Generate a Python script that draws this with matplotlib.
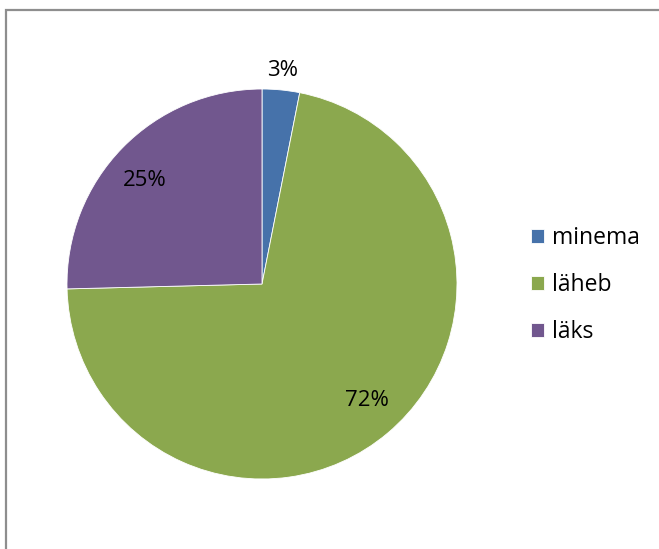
import numpy as np
import matplotlib
matplotlib.use('Agg')
import matplotlib.pyplot as plt
from matplotlib.patches import Rectangle

labels = ['minema', 'läheb', 'läks']
values = [3.1, 71.5, 25.4]
colors = ['#4672AA', '#8BA84E', '#71578E']

plt.rcParams['font.family'] = ['Open Sans', 'DejaVu Sans']

W, H = 659, 549
fig = plt.figure(figsize=(W / 100, H / 100), dpi=100)

# outer chart frame (left and top edges visible)
fig.patches.append(Rectangle((6 / W, -0.1), 1.2, (H - 10) / H + 0.1,
                             transform=fig.transFigure, fill=False,
                             edgecolor='#8e8e8e', linewidth=1.6))

cx, cy, r = 262, 284, 195
ax = fig.add_axes([(cx - r) / W, (H - cy - r) / H, 2 * r / W, 2 * r / H])
wedges, texts, autotexts = ax.pie(values, colors=colors, startangle=90,
                                  counterclock=False, autopct='%1.0f%%',
                                  pctdistance=0.8,
                                  wedgeprops=dict(edgecolor='white', linewidth=0.6),
                                  textprops=dict(fontsize=16, color='black'))
ax.set_xlim(-1, 1)
ax.set_ylim(-1, 1)

# small slice label sits outside the pie
w0 = wedges[0]
ang = np.deg2rad((w0.theta1 + w0.theta2) / 2)
autotexts[0].set_position((1.1 * np.cos(ang), 1.1 * np.sin(ang)))
autotexts[2].set_position((-0.6, 0.53))
autotexts[1].set_position((0.54, -0.6))

fig.legend(wedges, labels, loc='center left',
           bbox_to_anchor=(531 / W, 1 - 285 / H), frameon=False,
           fontsize=16.5, handlelength=0.58, handleheight=0.58,
           handletextpad=0.35, labelspacing=1.0, borderpad=0,
           borderaxespad=0)

fig.savefig('out.png', dpi=100)
